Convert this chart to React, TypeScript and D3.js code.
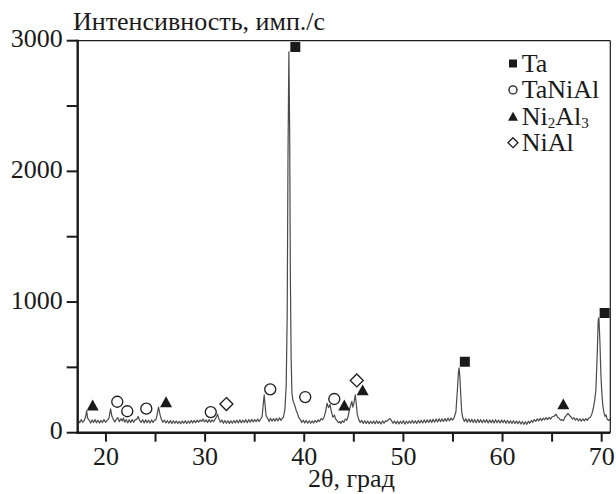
import React from 'react';
import * as d3 from 'd3';

// XRD scan: [2θ, intensity]
const scanLow: [number, number][] = [
  [17.2, 94], [17.35, 76], [17.5, 100], [17.65, 80], [17.8, 92], [17.95, 124], [18.05, 168],
  [18.15, 112], [18.3, 96], [18.45, 74], [18.6, 98], [18.75, 78], [18.9, 100], [19.05, 76],
  [19.2, 96], [19.35, 74], [19.5, 94], [19.65, 78], [19.8, 100], [19.95, 80], [20.1, 92],
  [20.3, 112], [20.47, 183], [20.6, 126], [20.75, 100], [20.9, 82], [21.05, 104], [21.2, 116],
  [21.35, 84], [21.5, 106], [21.65, 90], [21.75, 112], [21.9, 80], [22.05, 100], [22.2, 76],
  [22.35, 98], [22.5, 78], [22.65, 100], [22.8, 80], [22.95, 98], [23.1, 102], [23.25, 124],
  [23.4, 94], [23.55, 78], [23.7, 100], [23.85, 74], [24.0, 98], [24.15, 76], [24.3, 96],
  [24.45, 74], [24.6, 98], [24.75, 78], [24.9, 96], [25.05, 100], [25.15, 134], [25.3, 196],
  [25.45, 140], [25.6, 100], [25.75, 80], [25.9, 96], [26.05, 74], [26.2, 92], [26.35, 72],
  [26.5, 94], [26.65, 70], [26.8, 92], [26.95, 72], [27.1, 90], [27.25, 70], [27.4, 88],
  [27.55, 68], [27.7, 90], [27.85, 72], [28.0, 92], [28.15, 70], [28.3, 90], [28.45, 72],
  [28.6, 94], [28.75, 74], [28.9, 94], [29.05, 76], [29.2, 96], [29.35, 80], [29.5, 98],
  [29.65, 86], [29.8, 104], [29.95, 82],
];

const scanMid: [number, number][] = [
  [30.1, 98], [30.25, 78], [30.4, 100], [30.55, 80], [30.7, 98], [30.85, 84], [31.0, 102],
  [31.15, 122], [31.25, 142], [31.4, 104], [31.55, 80], [31.7, 98], [31.85, 72], [32.0, 94],
  [32.15, 72], [32.3, 92], [32.45, 70], [32.6, 92], [32.75, 72], [32.9, 94], [33.05, 74],
  [33.2, 96], [33.35, 74], [33.5, 98], [33.65, 76], [33.8, 96], [33.95, 78], [34.1, 100],
  [34.25, 76], [34.4, 100], [34.55, 80], [34.7, 102], [34.85, 82], [35.0, 100], [35.15, 84],
  [35.3, 104], [35.45, 86], [35.6, 104], [35.75, 124], [35.88, 230], [35.96, 289],
  [36.05, 212], [36.15, 132], [36.3, 110], [36.45, 86], [36.6, 110], [36.75, 88],
  [36.9, 108], [37.05, 88], [37.2, 110], [37.35, 90], [37.5, 114], [37.65, 94], [37.8, 112],
  [37.9, 118], [38.05, 180], [38.18, 360], [38.28, 900], [38.36, 2100], [38.45, 2915],
  [38.53, 2300], [38.6, 1200], [38.68, 560], [38.76, 304], [38.85, 250], [38.95, 228],
  [39.08, 200], [39.2, 168], [39.3, 150], [39.45, 116], [39.6, 100], [39.75, 78],
  [39.9, 96], [40.05, 74], [40.2, 94], [40.35, 72], [40.5, 92], [40.65, 72], [40.8, 90],
  [40.95, 74], [41.1, 94], [41.25, 78], [41.4, 98], [41.55, 86], [41.7, 108], [41.85, 98],
  [42.0, 120], [42.15, 160], [42.3, 225], [42.45, 192], [42.6, 215], [42.75, 158],
  [42.9, 118], [43.05, 135], [43.15, 108], [43.3, 92], [43.45, 76], [43.6, 86], [43.7, 70],
  [43.85, 92], [44.0, 80], [44.15, 104], [44.3, 96], [44.45, 132], [44.55, 175],
  [44.7, 214], [44.8, 240], [44.9, 196], [45.0, 222], [45.15, 290], [45.25, 220],
  [45.35, 140], [45.5, 100], [45.65, 78], [45.8, 94], [45.95, 70],
];

const scanHigh: [number, number][] = [
  [46.1, 92], [46.25, 70], [46.4, 90], [46.55, 68], [46.7, 88], [46.85, 70], [47.0, 90],
  [47.15, 68], [47.3, 92], [47.45, 70], [47.6, 86], [47.75, 66], [47.9, 90], [48.05, 72],
  [48.2, 92], [48.35, 86], [48.5, 100], [48.65, 108], [48.8, 92], [48.95, 72], [49.1, 90],
  [49.25, 68], [49.4, 90], [49.55, 66], [49.7, 88], [49.85, 70], [50.0, 92], [50.15, 66],
  [50.3, 88], [50.45, 70], [50.6, 90], [50.75, 72], [50.9, 94], [51.05, 72], [51.2, 92],
  [51.35, 70], [51.5, 94], [51.65, 74], [51.8, 96], [51.95, 74], [52.1, 98], [52.25, 76],
  [52.4, 98], [52.55, 78], [52.7, 100], [52.85, 78], [53.0, 102], [53.15, 80], [53.3, 104],
  [53.45, 82], [53.6, 106], [53.75, 84], [53.9, 106], [54.05, 86], [54.2, 108], [54.35, 88],
  [54.5, 112], [54.65, 90], [54.8, 112], [54.95, 96], [55.1, 112], [55.3, 160],
  [55.45, 330], [55.55, 460], [55.62, 497], [55.7, 420], [55.78, 300], [55.88, 160],
  [56.0, 112], [56.15, 86], [56.3, 106], [56.45, 80], [56.6, 104], [56.75, 80], [56.9, 102],
  [57.05, 78], [57.2, 100], [57.35, 76], [57.5, 102], [57.65, 78], [57.8, 100], [57.95, 76],
  [58.1, 98], [58.25, 78], [58.4, 100], [58.55, 74], [58.7, 98], [58.85, 76], [59.0, 98],
  [59.15, 74], [59.3, 100], [59.45, 76], [59.6, 96], [59.75, 74], [59.9, 98], [60.05, 76],
  [60.2, 96], [60.35, 72], [60.5, 94], [60.65, 72], [60.8, 92], [60.95, 70], [61.1, 92],
  [61.25, 70], [61.4, 90], [61.55, 68], [61.7, 88], [61.85, 66], [62.0, 86], [62.15, 64],
  [62.3, 84], [62.45, 64], [62.6, 88], [62.75, 72], [62.9, 94], [63.05, 80], [63.2, 100],
  [63.35, 86], [63.5, 106], [63.65, 90], [63.8, 110], [63.95, 92], [64.1, 112], [64.25, 98],
  [64.4, 116], [64.55, 100], [64.7, 118], [64.85, 104], [65.0, 122], [65.2, 126],
  [65.4, 141], [65.55, 118], [65.7, 110], [65.85, 96], [66.0, 100], [66.15, 92],
  [66.3, 120], [66.45, 132], [66.6, 148], [66.75, 132], [66.9, 122], [67.05, 104],
  [67.2, 116], [67.35, 96], [67.5, 110], [67.65, 90], [67.8, 106], [67.95, 88],
  [68.1, 106], [68.25, 90], [68.4, 108], [68.55, 94], [68.7, 112], [68.85, 118],
  [69.0, 140], [69.16, 187], [69.3, 250], [69.42, 330], [69.55, 600], [69.65, 860],
  [69.72, 880], [69.82, 700], [69.92, 450], [70.0, 327], [70.1, 220], [70.2, 165],
  [70.33, 125], [70.45, 136], [70.55, 104], [70.7, 92], [70.85, 106],
];

// phase markers: [2θ, intensity]
const taMarks: [number, number][] = [[39.1, 2952], [56.2, 543], [70.3, 916]];
const taNiAlMarks: [number, number][] = [
  [21.14, 237], [22.15, 164], [24.07, 184], [30.57, 158], [36.57, 332], [40.1, 273], [43.03, 258],
];
const ni2Al3Marks: [number, number][] = [
  [18.66, 212], [26.06, 237], [44.04, 212], [45.89, 327], [66.13, 220],
];
const niAlMarks: [number, number][] = [[32.15, 219], [45.3, 400]];

const xTicks = [20, 25, 30, 35, 40, 45, 50, 55, 60, 65, 70];
const xLabels = [20, 30, 40, 50, 60, 70];
const yTicks = [0, 500, 1000, 1500, 2000, 2500, 3000];
const yLabels = [0, 1000, 2000, 3000];

const W = 616;
const H = 494;
const left = 77.7;
const right = 610.3;
const top = 40.7;
const bottom = 432.7;
const FONT = "'Liberation Serif', 'DejaVu Serif', 'Times New Roman', serif";
const INK = '#1a1a1a';
const FS = 26;

type Shape = 'square' | 'circle' | 'triangle' | 'diamond';

const Marker: React.FC<{ shape: Shape; x: number; y: number; s: number }> = ({ shape, x, y, s }) => {
  if (shape === 'square') {
    return <rect x={x - s / 2} y={y - s / 2} width={s} height={s} fill={INK} />;
  }
  if (shape === 'circle') {
    return <circle cx={x} cy={y} r={s / 2} fill="#fff" stroke={INK} strokeWidth={1.3} />;
  }
  if (shape === 'triangle') {
    const h = s * 0.9;
    return (
      <path
        d={`M${x},${y - h / 2}L${x + s / 2},${y + h / 2}L${x - s / 2},${y + h / 2}Z`}
        fill={INK}
      />
    );
  }
  const r = s / 2;
  return (
    <path
      d={`M${x},${y - r}L${x + r},${y}L${x},${y + r}L${x - r},${y}Z`}
      fill="#fff"
      stroke={INK}
      strokeWidth={1.3}
    />
  );
};

export default function App() {
  const x = d3.scaleLinear().domain([17.15, 70.87]).range([left, right]);
  const y = d3.scaleLinear().domain([0, 3000]).range([bottom, top]);
  const line = d3
    .line<[number, number]>()
    .x((d) => x(d[0]))
    .y((d) => y(d[1]));
  const scan = [...scanLow, ...scanMid, ...scanHigh];

  const groups: { shape: Shape; pts: [number, number][]; s: number }[] = [
    { shape: 'square', pts: taMarks, s: 10 },
    { shape: 'circle', pts: taNiAlMarks, s: 11 },
    { shape: 'triangle', pts: ni2Al3Marks, s: 12 },
    { shape: 'diamond', pts: niAlMarks, s: 13 },
  ];

  const legend: { shape: Shape; s: number; label: React.ReactNode }[] = [
    { shape: 'square', s: 8, label: 'Ta' },
    { shape: 'circle', s: 8, label: 'TaNiAl' },
    {
      shape: 'triangle',
      s: 10,
      label: (
        <>
          Ni<tspan fontSize={15} dy={3}>2</tspan>
          <tspan dy={-3}>Al</tspan>
          <tspan fontSize={15} dy={3}>3</tspan>
        </>
      ),
    },
    { shape: 'diamond', s: 10, label: 'NiAl' },
  ];

  return (
    <svg
      width={W}
      height={H}
      style={{ position: 'absolute', left: 0, top: 0, background: '#fff', fontFamily: FONT }}
    >
      <path d={line(scan) || ''} fill="none" stroke="#4a4a4a" strokeWidth={1.2} strokeLinejoin="round" />

      {/* frame */}
      <line x1={left} x2={right} y1={top} y2={top} stroke={INK} strokeWidth={1.2} />
      <line x1={right} x2={right} y1={top} y2={bottom} stroke={INK} strokeWidth={1.2} />
      <line x1={left} x2={left} y1={top - 1} y2={bottom + 1} stroke={INK} strokeWidth={2.4} />
      <line x1={left - 1} x2={right} y1={bottom} y2={bottom} stroke={INK} strokeWidth={2.4} />

      {yTicks.map((t) => (
        <line key={`yt${t}`} x1={left - 11} x2={left} y1={y(t)} y2={y(t)} stroke={INK} strokeWidth={2} />
      ))}
      {yLabels.map((t) => (
        <text key={`yl${t}`} x={left - 15} y={y(t) + 6.5} textAnchor="end" fontSize={FS} fill={INK}>
          {t}
        </text>
      ))}
      {xTicks.map((t) => (
        <line key={`xt${t}`} x1={x(t)} x2={x(t)} y1={bottom} y2={bottom + 9} stroke={INK} strokeWidth={2} />
      ))}
      {xLabels.map((t) => (
        <text key={`xl${t}`} x={x(t)} y={465} textAnchor="middle" fontSize={FS} fill={INK}>
          {t}
        </text>
      ))}

      <text x={73} y={30} fontSize={FS} fill={INK}>
        Интенсивность, имп./с
      </text>
      <text x={308} y={487} fontSize={FS} fill={INK}>
        2θ, град
      </text>

      {groups.map((g) =>
        g.pts.map((p, i) => <Marker key={`${g.shape}${i}`} shape={g.shape} x={x(p[0])} y={y(p[1])} s={g.s} />)
      )}

      {legend.map((l, i) => (
        <g key={`lg${i}`}>
          <Marker shape={l.shape} x={513} y={63.5 + i * 26.4} s={l.s} />
          <text x={521.7} y={71.7 + i * 26.4} fontSize={FS} fill={INK}>
            {l.label}
          </text>
        </g>
      ))}
    </svg>
  );
}
